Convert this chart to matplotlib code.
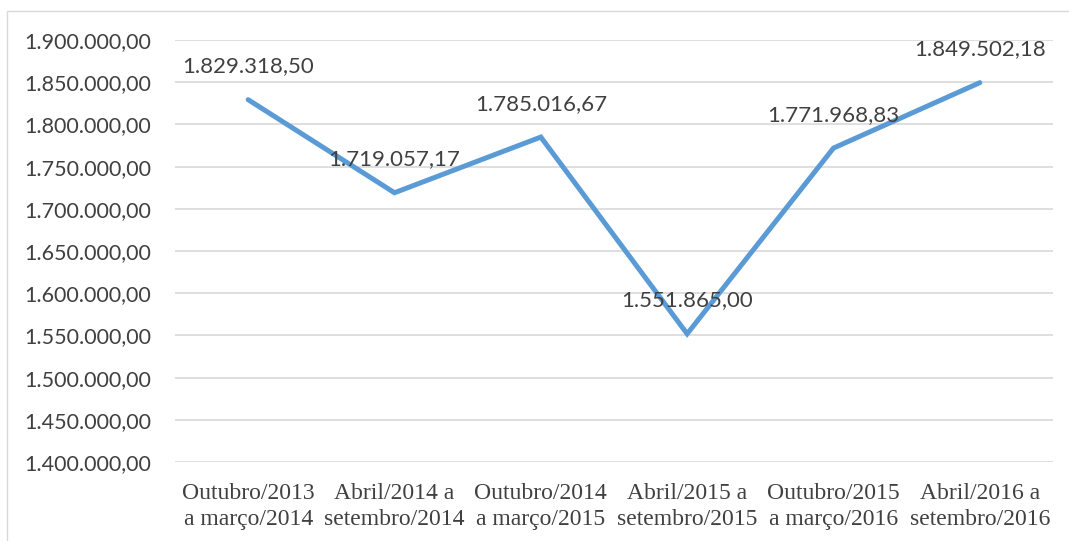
import matplotlib

matplotlib.use("Agg")
import matplotlib.pyplot as plt
from matplotlib.patches import Rectangle
from matplotlib.ticker import FuncFormatter

PERIODS = [
    "Outubro/2013\na março/2014",
    "Abril/2014 a\nsetembro/2014",
    "Outubro/2014\na março/2015",
    "Abril/2015 a\nsetembro/2015",
    "Outubro/2015\na março/2016",
    "Abril/2016 a\nsetembro/2016",
]
VALUES = [1829318.50, 1719057.17, 1785016.67, 1551865.00, 1771968.83, 1849502.18]

LINE_COLOR = "#5B9BD5"
TEXT_COLOR = "#404040"
SANS = ["Lato", "DejaVu Sans"]
SERIF = ["Liberation Serif", "DejaVu Serif"]


def br_number(v, _pos=None):
    s = f"{v:,.2f}"
    return s.replace(",", "X").replace(".", ",").replace("X", ".")


def main():
    fig = plt.figure(figsize=(10.69, 5.41), dpi=100)
    ax = fig.add_axes([0.1637, 0.146, 0.8213, 0.78])

    # light frame around the whole chart
    fig.patches.append(Rectangle((7 / 1069, -0.01), 1.0, 1 - 11 / 541 + 0.01,
                                 transform=fig.transFigure, fill=False,
                                 edgecolor="#D9D9D9", lw=1.0))

    x = list(range(len(PERIODS)))
    ax.plot(x, VALUES, color=LINE_COLOR, lw=3.6, solid_capstyle="round",
            solid_joinstyle="miter", zorder=3)

    for xi, v in zip(x, VALUES):
        ax.annotate(br_number(v), (xi, v), xytext=(0, 24), textcoords="offset points",
                    ha="center", va="center", fontsize=16, color=TEXT_COLOR,
                    family=SANS, zorder=4)

    ax.set_xlim(-0.5, len(PERIODS) - 0.5)
    ax.set_ylim(1400000, 1900000)
    ax.set_yticks(range(1400000, 1900001, 50000))
    ax.yaxis.set_major_formatter(FuncFormatter(br_number))
    ax.set_xticks(x)
    ax.set_xticklabels(PERIODS, family=SERIF, fontsize=17, color=TEXT_COLOR,
                       linespacing=1.35)
    for lab in ax.get_yticklabels():
        lab.set_family(SANS)
        lab.set_fontsize(15.5)
        lab.set_color(TEXT_COLOR)

    ax.grid(axis="y", color="#D9D9D9", lw=1.2)
    ax.set_axisbelow(True)
    ax.tick_params(length=0, pad=17)
    ax.tick_params(axis="x", pad=15)
    for sp in ax.spines.values():
        sp.set_visible(False)

    fig.savefig("out.png", dpi=100)


if __name__ == "__main__":
    main()
